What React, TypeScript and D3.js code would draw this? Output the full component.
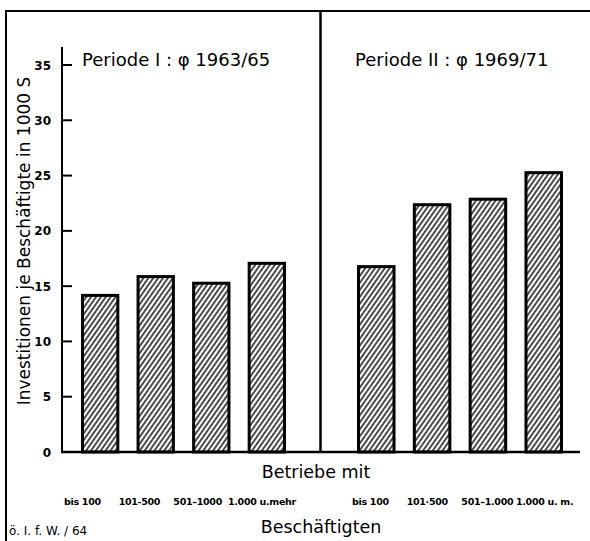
import React from "react";
import { scaleBand, scaleLinear, scalePoint } from "d3";

const categories = ["bis 100", "101-500", "501-1000", "1.000 u.mehr"];
const categoryLabels1 = ["bis 100", "101-500", "501–1000", "1.000 u.mehr"];
const categoryLabels2 = ["bis 100", "101·500", "501–1.000", "1.000 u. m."];
const period1 = [14.3, 16.0, 15.4, 17.2];
const period2 = [16.9, 22.5, 23.0, 25.4];
const yTicks = [0, 5, 10, 15, 20, 25, 30, 35];
const titles = ["Periode I : φ 1963/65", "Periode II : φ 1969/71"];

const W = 590;
const H = 541;
const font = "'DejaVu Sans', sans-serif";

const App = () => {
  const y = scaleLinear().domain([0, 35]).range([452, 65]);
  const x1 = scaleBand().domain(categories).range([81, 286]).paddingInner(0.31).paddingOuter(0);
  const x2 = scaleBand().domain(categories).range([357, 563]).paddingInner(0.31).paddingOuter(0);
  // label start positions under each panel
  const l1 = scalePoint().domain(categories).range([64, 228]);
  const l2 = scalePoint().domain(categories).range([352, 516]);

  const panels = [
    { x: x1, vals: period1, labels: categoryLabels1, lx: l1, title: titles[0], tx: 82 },
    { x: x2, vals: period2, labels: categoryLabels2, lx: l2, title: titles[1], tx: 355 },
  ];

  return (
    <svg
      width={W}
      height={H}
      style={{ position: "absolute", left: 0, top: 0, background: "#fff" }}
      fontFamily={font}
    >
      <defs>
        <pattern
          id="hatch"
          patternUnits="userSpaceOnUse"
          width={4}
          height={8}
          patternTransform="rotate(35)"
        >
          <rect width={4} height={8} fill="#fff" />
          <line x1={1} y1={0} x2={1} y2={8} stroke="#000" strokeWidth={1.4} />
        </pattern>
      </defs>

      {/* frame */}
      <line x1={6} y1={11} x2={590} y2={11} stroke="#000" strokeWidth={2} />
      <line x1={6} y1={10} x2={6} y2={541} stroke="#000" strokeWidth={2} />
      <line x1={320.5} y1={11} x2={320.5} y2={y(0)} stroke="#000" strokeWidth={2.5} />

      {/* y axis */}
      <line x1={62} y1={47} x2={62} y2={y(0)} stroke="#000" strokeWidth={2} />
      {yTicks.map((t) => (
        <g key={t}>
          {t > 0 && <line x1={62} x2={72} y1={y(t)} y2={y(t)} stroke="#000" strokeWidth={2} />}
          <text
            x={51}
            y={y(t)}
            dy="0.38em"
            textAnchor="end"
            fontSize={12}
            fontWeight="bold"
          >
            {t}
          </text>
        </g>
      ))}
      <text
        transform="translate(30,241) rotate(-90)"
        textAnchor="middle"
        fontSize={17}
      >
        Investitionen je Beschäftigte in 1000 S
      </text>

      {/* bars */}
      {panels.map((p, pi) => (
        <g key={pi}>
          <text x={p.tx} y={66} fontSize={18}>
            {p.title}
          </text>
          {categories.map((c, i) => (
            <rect
              key={c}
              x={(p.x(c) as number) + 1.5}
              y={y(p.vals[i]) + 1.5}
              width={p.x.bandwidth() - 3}
              height={y(0) - y(p.vals[i]) - 1.5}
              fill="url(#hatch)"
              stroke="#000"
              strokeWidth={3}
            />
          ))}
          {categories.map((c, i) => (
            <text
              key={"l" + c}
              x={p.lx(c) as number}
              y={505}
              fontSize={9.5}
              fontWeight="bold"
              letterSpacing={-0.3}
            >
              {p.labels[i]}
            </text>
          ))}
        </g>
      ))}

      {/* baseline */}
      <line x1={61} x2={580} y1={y(0)} y2={y(0)} stroke="#000" strokeWidth={2.5} />

      <text x={316} y={478} textAnchor="middle" fontSize={17.5}>
        Betriebe mit
      </text>
      <text x={321} y={533} textAnchor="middle" fontSize={17.5}>
        Beschäftigten
      </text>
      <text x={9} y={535} fontSize={12}>
        ö. I. f. W. / 64
      </text>
    </svg>
  );
};

export default App;
